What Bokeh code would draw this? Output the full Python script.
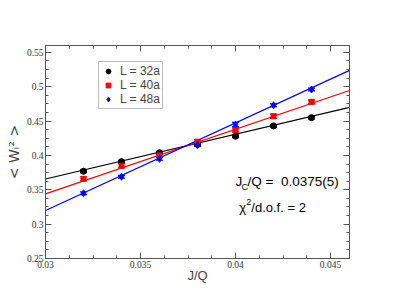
import numpy as np
from bokeh.plotting import figure
from bokeh.models import (ColumnDataSource, Whisker, TeeHead, Range1d, LinearAxis, FixedTicker,
                          CustomJSTickFormatter, Label, Legend, LegendItem)
from bokeh.embed import file_html
from bokeh.resources import INLINE

# ---- data ----
jq = [0.032, 0.034, 0.036, 0.038, 0.040, 0.042, 0.044]
w_L32 = [0.377, 0.391, 0.404, 0.416, 0.428, 0.443, 0.455]
e_L32 = [0.002, 0.002, 0.002, 0.002, 0.002, 0.002, 0.002]
w_L40 = [0.366, 0.385, 0.400, 0.420, 0.437, 0.457, 0.478]
e_L40 = [0.003, 0.003, 0.003, 0.003, 0.003, 0.003, 0.003]
w_L48 = [0.345, 0.369, 0.395, 0.415, 0.445, 0.473, 0.496]
e_L48 = [0.002, 0.002, 0.002, 0.002, 0.003, 0.002, 0.002]
series_names = ["L = 32a", "L = 40a", "L = 48a"]
fit_x = [0.030, 0.046]
fit_L32 = [0.3657, 0.4700]
fit_L40 = [0.3440, 0.4945]
fit_L48 = [0.3198, 0.5238]
x_ticks = [0.03, 0.035, 0.04, 0.045]
y_ticks = [0.25, 0.3, 0.35, 0.4, 0.45, 0.5, 0.55]

colors = ["black", "#ff0000", "#0000ff"]

p = figure(width=362, height=290, output_backend="svg", toolbar_location=None,
           x_range=Range1d(0.03, 0.046), y_range=Range1d(0.25, 0.56),
           min_border_left=45, min_border_right=13, min_border_top=45, min_border_bottom=32)
p.xgrid.visible = False
p.ygrid.visible = False
p.outline_line_color = "#555555"
p.background_fill_color = "white"
p.border_fill_color = "white"

x_minor = list(np.round(np.arange(0.03, 0.0461, 0.00125), 6))
y_minor = list(np.round(np.arange(0.25, 0.5601, 0.0125), 6))
xt = FixedTicker(ticks=x_ticks, minor_ticks=x_minor)
yt = FixedTicker(ticks=y_ticks, minor_ticks=y_minor)
fmt = CustomJSTickFormatter(code="return Number(tick.toFixed(4)).toString();")
blank = CustomJSTickFormatter(code="return '';")

def style_axis(ax):
    ax.axis_line_color = "#555555"
    ax.major_tick_line_color = "#555555"
    ax.minor_tick_line_color = "#555555"
    ax.major_tick_in = 6
    ax.major_tick_out = 0
    ax.minor_tick_in = 3
    ax.minor_tick_out = 0
    ax.major_label_text_font = "Liberation Serif"
    ax.major_label_text_font_size = "9.5px"
    ax.major_label_text_color = "#333333"
    ax.major_label_standoff = 2

p.xaxis.ticker = xt
p.yaxis.ticker = yt
p.xaxis.formatter = fmt
p.yaxis.formatter = fmt
style_axis(p.xaxis[0])
style_axis(p.yaxis[0])
p.xaxis.axis_label = "J/Q"
p.xaxis.axis_label_text_font = "Liberation Sans"
p.xaxis.axis_label_text_font_style = "normal"
p.xaxis.axis_label_text_font_size = "13px"
p.xaxis.axis_label_standoff = -3

p.yaxis.axis_label = "< W\u1d62\u00b2 >"
p.yaxis.axis_label_text_font = "DejaVu Sans"
p.yaxis.axis_label_text_font_style = "normal"
p.yaxis.axis_label_text_font_size = "14px"
p.yaxis.axis_label_standoff = 2

top = LinearAxis(ticker=xt, formatter=blank)
right = LinearAxis(ticker=yt, formatter=blank)
style_axis(top)
style_axis(right)
top.major_label_standoff = 0
right.major_label_standoff = 0
p.add_layout(top, "above")
p.add_layout(right, "right")

# fit lines
for fy, c in zip([fit_L32, fit_L40, fit_L48], colors):
    p.line(fit_x, fy, line_color=c, line_width=1.2)

items = []
for ys, es, c, name, mk, sz in zip([w_L32, w_L40, w_L48], [e_L32, e_L40, e_L48], colors,
                                   series_names, ["circle", "square", "diamond"], [6, 5, 7]):
    ys = np.array(ys); es = np.array(es)
    src = ColumnDataSource(dict(x=jq, y=ys, lo=ys - es, hi=ys + es))
    w = Whisker(source=src, base="x", upper="hi", lower="lo", line_color=c, line_width=1.2,
                upper_head=TeeHead(size=7, line_color=c, line_width=1.2),
                lower_head=TeeHead(size=7, line_color=c, line_width=1.2))
    p.add_layout(w)
    r = p.scatter("x", "y", source=src, marker=mk, size=sz, fill_color=c, line_color=c)
    items.append(LegendItem(label=name, renderers=[r]))

legend = Legend(items=items, location=(53, 149), orientation="vertical",
                label_text_font="Liberation Sans", label_text_font_size="12px",
                glyph_height=12, glyph_width=14, label_height=12, spacing=0,
                padding=2, margin=0, label_standoff=5,
                border_line_color="#777777", border_line_width=1,
                background_fill_color="white", background_fill_alpha=1)
p.add_layout(legend, "center")

# annotations
fs = "13.5px"
f = "Liberation Sans"
p.add_layout(Label(x=0.0400, y=0.362, text="J", text_font=f, text_font_size=fs,
                   text_baseline="middle", text_color="black"))
p.add_layout(Label(x=0.0400, y=0.362, x_offset=6, y_offset=-5, text="C", text_font=f,
                   text_font_size="9px", text_baseline="middle", text_color="black"))
p.add_layout(Label(x=0.0400, y=0.362, x_offset=12, text="/Q =\u00a0 0.0375(5)", text_font=f,
                   text_font_size=fs, text_baseline="middle", text_color="black"))
p.add_layout(Label(x=0.0402, y=0.3242, text="\u03c7", text_font=f, text_font_size="13px",
                   text_baseline="middle", text_color="black"))
p.add_layout(Label(x=0.0402, y=0.3242, x_offset=7, y_offset=6, text="2", text_font=f,
                   text_font_size="9px", text_baseline="middle", text_color="black"))
p.add_layout(Label(x=0.0402, y=0.3242, x_offset=12, text="/d.o.f. = 2", text_font=f,
                   text_font_size="13px", text_baseline="middle", text_color="black"))

open("out.html", "w").write(file_html(p, INLINE))
